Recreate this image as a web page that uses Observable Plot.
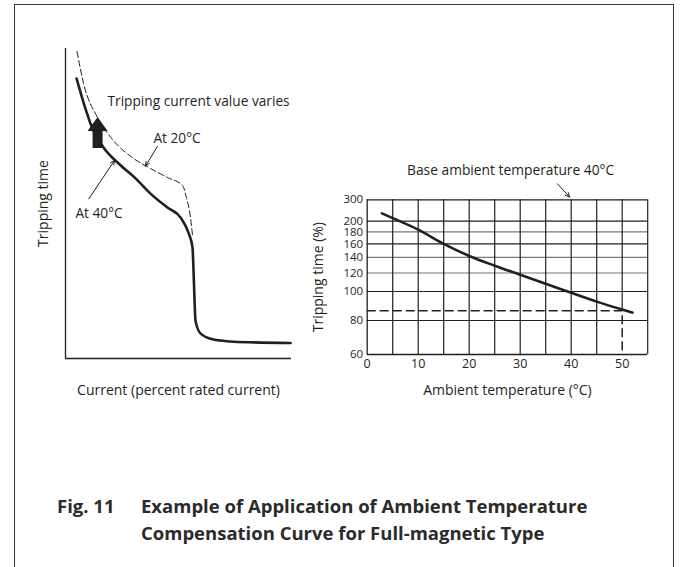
<!DOCTYPE html>
<html><head><meta charset="utf-8">
<script src="https://cdn.jsdelivr.net/npm/d3@7"></script>
<script src="https://cdn.jsdelivr.net/npm/@observablehq/plot@0.6"></script>
<style>
body{margin:0;background:#fff;width:680px;height:567px;position:relative;overflow:hidden;font-family:"Open Sans",sans-serif;color:#231f20}
#frame{position:absolute;left:14px;top:4px;width:660px;height:600px;border:1.5px solid #3d3535;box-sizing:border-box}
#left{position:absolute;left:0;top:0}
#right{position:absolute;left:300px;top:0}
.t{position:absolute;font-weight:bold;font-size:18.5px;color:#2b2b2b;white-space:nowrap;line-height:1}
</style></head><body>
<div id="frame"></div>
<div id="left"></div><div id="right"></div>
<div class="t" style="left:57px;top:497px">Fig. 11</div>
<div class="t" style="left:141px;top:497px">Example of Application of Ambient Temperature</div>
<div class="t" style="left:141px;top:524px">Compensation Curve for Full-magnetic Type</div>
<script>
// ---- Left panel (schematic, arbitrary units 0-100) ----
const solidX = [4.9, 8.4, 11.9, 16.8, 23.5, 31.0, 37.6, 45.1, 50.9, 54.4, 56.2, 56.6, 57.1, 57.5, 59.7, 65.5, 73.0, 83.2, 99.6];
const solidY = [90.3, 81.6, 74.2, 68.1, 62.9, 58.1, 53.2, 48.7, 45.5, 40.6, 35.8, 29.4, 18.7, 12.3, 8.1, 6.1, 5.5, 5.2, 5.0];
const dashX = [5.1, 8.0, 14.2, 21.2, 29.6, 37.6, 45.1, 51.8, 53.5, 55.3, 56.2];
const dashY = [99.0, 88.7, 77.7, 70.3, 64.8, 61.3, 58.4, 55.8, 51.9, 45.5, 39.7];
const leftLabels = ["Tripping current value varies", "At 20°C", "At 40°C"];
const leftLabelX = [18.6, 38.9, 4.4];
const leftLabelY = [82.9, 71.0, 46.9];
const arrowX1 = [40.7, 10.3];
const arrowY1 = [68.4, 51.5];
const arrowX2 = [35.4, 21.7];
const arrowY2 = [62.1, 63.9];
const bigArrowX = [14.2];
const bigArrowY = [67.9];

// ---- Right panel ----
const tempTicks = [0, 10, 20, 30, 40, 50];
const tempGrid = [5, 10, 15, 20, 25, 30, 35, 40, 45, 55];
const pctTicks = [60, 80, 100, 120, 140, 160, 180, 200, 300];
const pctGridDark = [80, 100, 160, 200, 300];
const pctGridLight = [120, 140, 180];
const curveT = [2.9, 5, 10, 15, 20, 25, 30, 35, 40, 45, 50, 52];
const curveP = [232, 212, 184, 160, 142, 129, 118, 108, 99, 92.5, 87, 85];
const refT = [0, 50, 50];
const refP = [86.3, 86.3, 60];
const baseArrowT1 = [37.3], baseArrowP1 = [406], baseArrowT2 = [39.7], baseArrowP2 = [316];

const ink = "#231f20";
const font = "'Open Sans', sans-serif";
const zipXY = (xs, ys) => xs.map((x, i) => ({x, y: ys[i]}));

const blockArrow = {
  draw(ctx, l) {
    const hw = 10, sw = 5, hl = 14;
    ctx.moveTo(-sw, 0);
    ctx.lineTo(-sw, -(l - hl));
    ctx.lineTo(-hw, -(l - hl));
    ctx.lineTo(0, -l);
    ctx.lineTo(hw, -(l - hl));
    ctx.lineTo(sw, -(l - hl));
    ctx.lineTo(sw, 0);
    ctx.closePath();
  }
};

const left = Plot.plot({
  width: 300, height: 420,
  marginLeft: 65, marginRight: 9, marginTop: 48, marginBottom: 62,
  x: {domain: [0, 100], axis: null},
  y: {domain: [0, 100], axis: null},
  style: {fontFamily: font, fontSize: "13px", color: ink, background: "transparent", overflow: "visible"},
  marks: [
    Plot.ruleX([0], {stroke: ink, strokeWidth: 1.3}),
    Plot.ruleY([0], {stroke: ink, strokeWidth: 1.3}),
    Plot.line(zipXY(dashX, dashY), {x: "x", y: "y", curve: "monotone-x", stroke: ink, strokeWidth: 1, strokeDasharray: "6,3"}),
    Plot.line(zipXY(solidX, solidY), {x: "x", y: "y", curve: "monotone-x", stroke: ink, strokeWidth: 2.6}),
    Plot.vector(zipXY(bigArrowX, bigArrowY), {x: "x", y: "y", length: 31, anchor: "start", shape: blockArrow, fill: ink, stroke: "none"}),
    Plot.arrow(arrowX1.map((x, i) => ({x1: x, y1: arrowY1[i], x2: arrowX2[i], y2: arrowY2[i]})),
      {x1: "x1", y1: "y1", x2: "x2", y2: "y2", stroke: ink, strokeWidth: 1, headLength: 7, headAngle: 50}),
    Plot.text(leftLabels.map((t, i) => ({t, x: leftLabelX[i], y: leftLabelY[i]})),
      {x: "x", y: "y", text: "t", textAnchor: "start", fill: ink, fontSize: 13.7}),
    Plot.text(["Tripping time"], {frameAnchor: "left", textAnchor: "middle", lineAnchor: "middle", rotate: -90, dx: -22, fill: ink, fontSize: 14}),
    Plot.text(["Current (percent rated current)"], {frameAnchor: "bottom", textAnchor: "middle", lineAnchor: "middle", dy: 32, fill: ink, fontSize: 14})
  ]
});
document.getElementById("left").append(left);

const right = Plot.plot({
  width: 380, height: 420,
  marginLeft: 66.7, marginRight: 32.8, marginTop: 199.3, marginBottom: 66,
  x: {domain: [0, 55]},
  y: {type: "log", domain: [60, 80, 100, 200, 300], range: [354, 320, 291, 220.7, 199.3]},
  style: {fontFamily: font, fontSize: "12px", color: ink, background: "transparent", overflow: "visible"},
  marks: [
    Plot.ruleY(pctGridLight, {stroke: "#777", strokeWidth: 1.2}),
    Plot.ruleY(pctGridDark, {stroke: ink, strokeWidth: 1.2}),
    Plot.ruleX(tempGrid, {stroke: ink, strokeWidth: 1.2}),
    Plot.ruleX([50], {y1: refP[0], y2: 300, stroke: ink, strokeWidth: 1.2}),
    Plot.ruleX([0], {stroke: ink, strokeWidth: 1.3}),
    Plot.ruleY([60], {stroke: ink, strokeWidth: 1.3}),
    Plot.axisX({ticks: tempTicks, tickSize: 0, tickPadding: 5, label: null, fontSize: 12.5}),
    Plot.axisY({ticks: pctTicks, tickSize: 0, tickPadding: 4, label: null, tickFormat: d => String(d), fontSize: 11.5}),
    Plot.line(zipXY(refT, refP), {x: "x", y: "y", stroke: ink, strokeWidth: 1.5, strokeDasharray: "8,5"}),
    Plot.line(zipXY(curveT, curveP), {x: "x", y: "y", curve: "monotone-x", stroke: ink, strokeWidth: 2.6}),
    Plot.arrow([{x1: baseArrowT1[0], y1: baseArrowP1[0], x2: baseArrowT2[0], y2: baseArrowP2[0]}],
      {x1: "x1", y1: "y1", x2: "x2", y2: "y2", stroke: ink, strokeWidth: 1, headLength: 7, headAngle: 50}),
    Plot.text(["Base ambient temperature 40°C"], {x: [7.8], frameAnchor: "top", lineAnchor: "middle", dy: -29, textAnchor: "start", fill: ink, fontSize: 13.8}),
    Plot.text(["Tripping time (%)"], {frameAnchor: "left", textAnchor: "middle", lineAnchor: "middle", rotate: -90, dx: -48.7, fill: ink, fontSize: 14}),
    Plot.text(["Ambient temperature (°C)"], {frameAnchor: "bottom", textAnchor: "middle", lineAnchor: "middle", dy: 36, fill: ink, fontSize: 14})
  ]
});
document.getElementById("right").append(right);
</script>
</body></html>
